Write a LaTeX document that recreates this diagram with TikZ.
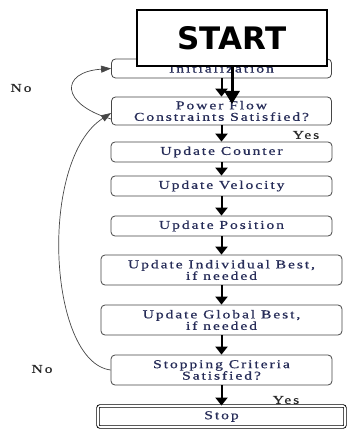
\documentclass[tikz,border=0pt]{standalone}
\usepackage{fontspec}
\usetikzlibrary{arrows.meta}
\newfontfamily\boxserif[LetterSpace=16,FakeStretch=1.3,FakeBold=0.6]{Liberation Serif}
\newfontfamily\startsans{DejaVu Sans}
\newcommand\boxtext{\boxserif\fontsize{12}{11.5}\selectfont}
\definecolor{navy}{RGB}{38,44,88}
\definecolor{boxgray}{RGB}{70,70,70}
\definecolor{lblgray}{RGB}{40,40,40}
\begin{document}
\begin{tikzpicture}[x=1pt,y=-1pt,
  box/.style={draw=boxgray, line width=0.8pt, rounded corners=4pt, fill=white,
    text=navy, font=\boxtext, align=center, inner sep=0pt},
  arr/.style={line width=2pt, -{Triangle[width=12pt,length=8pt]}},
  bigarr/.style={line width=3pt, -{Triangle[width=15pt,length=13pt]}},
  loopline/.style={draw=boxgray, line width=0.7pt, -{Triangle[width=7pt,length=10pt]}},
  lbl/.style={font=\boxtext, text=lblgray, inner sep=0pt}]
\useasboundingbox (0,0) rectangle (347,430);
\fill[white] (0,0) rectangle (347,430);

\node[box, minimum width=220pt, minimum height=19pt] (init) at (221.5,68.5) {Initialization};
\node[box, minimum width=220pt, minimum height=28pt] (pf) at (221.5,111) {Power Flow\\Constraints Satisfied?};
\node[box, minimum width=221pt, minimum height=20pt] (cnt) at (221.5,152) {Update Counter};
\node[box, minimum width=221pt, minimum height=20pt] (vel) at (221.5,186) {Update Velocity};
\node[box, minimum width=221pt, minimum height=20pt] (pos) at (221.5,226) {Update Position};
\node[box, minimum width=241pt, minimum height=30pt] (ind) at (221.5,270) {Update Individual Best,\\if needed};
\node[box, minimum width=241pt, minimum height=30pt] (glob) at (221.5,320) {Update Global Best,\\if needed};
\node[box, minimum width=221pt, minimum height=30pt] (stopc) at (221.5,370) {Stopping Criteria\\Satisfied?};
\node[box, double=white, draw=black, line width=0.9pt, double distance=1.6pt, rounded corners=2pt,
  minimum width=247pt, minimum height=21pt] (stop) at (221.5,416.5) {Stop};

\node[lbl] (no1) at (21,88) {No};
\node[lbl] (no2) at (42,369) {No};
\node[lbl] (yes1) at (306,135) {Yes};
\node[lbl] (yes2) at (286,400) {Yes};

\draw[arr] (init.south) -- (pf.north);
\draw[arr] (pf.south) -- (cnt.north);
\draw[arr] (cnt.south) -- (vel.north);
\draw[arr] (vel.south) -- (pos.north);
\draw[arr] (pos.south) -- (ind.north);
\draw[arr] (ind.south) -- (glob.north);
\draw[arr] (glob.south) -- (stopc.north);
\draw[arr] (stopc.south) -- (stop.north);

\draw[loopline] ([yshift=-8pt]pf.west) .. controls (60,104) and (60,72) .. (init.west);
\draw[loopline] (stopc.west) .. controls (48,362) and (38,160) .. ([yshift=-2pt]pf.west);

\node[draw=black, line width=1.6pt, fill=white, minimum width=190pt, minimum height=56pt,
  inner sep=0pt, font=\startsans\bfseries\fontsize{31}{31}\selectfont] (start) at (232,38) {START};
\coordinate (startend) at (232,104);
\draw[bigarr] (start.south) -- (startend);
\end{tikzpicture}
\end{document}
